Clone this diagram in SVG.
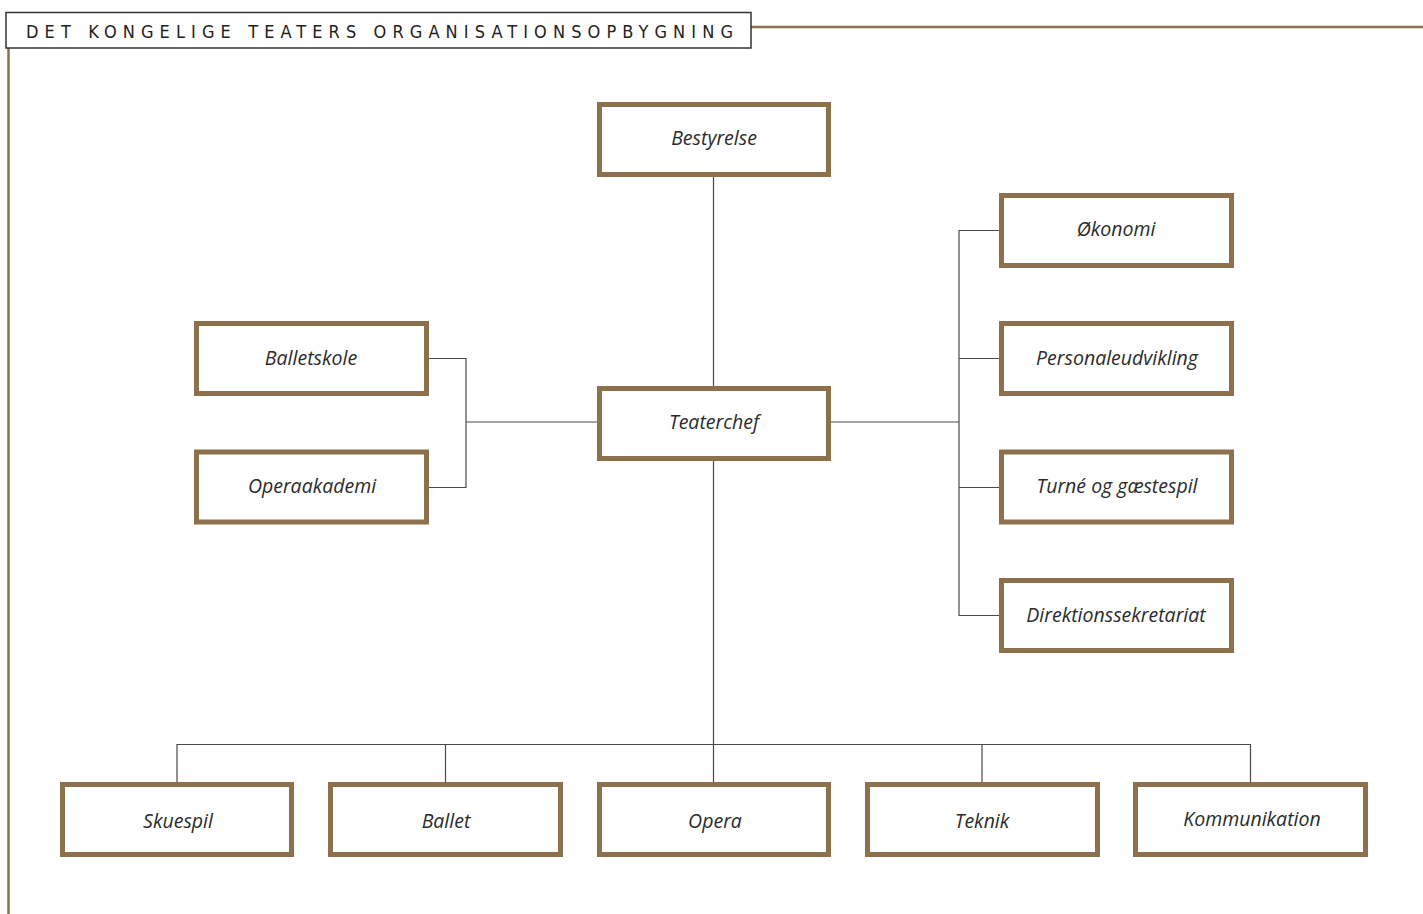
<svg xmlns="http://www.w3.org/2000/svg" width="1423" height="914" viewBox="0 0 1423 914">
<style>
.box{fill:#fff;stroke:#8c714c;stroke-width:5}
.lbl{font-family:"Open Sans","Liberation Sans",sans-serif;font-style:italic;font-size:19.5px;fill:#2b2b2b;text-anchor:middle;dominant-baseline:central}
.con{stroke:#4a4a4a;stroke-width:1.2;fill:none}
.frame{stroke:#8c714c;stroke-width:2.5;fill:none}
</style>
<rect width="1423" height="914" fill="#fff"/>
<g id="frame">
<line class="frame" x1="751" y1="27" x2="1423" y2="27"/>
<line class="frame" x1="8.5" y1="48" x2="8.5" y2="914"/>
<rect x="6" y="12.5" width="745" height="35.5" fill="#fff" stroke="#333" stroke-width="1.5"/>
<text x="26" y="37.5" font-family="'DejaVu Sans Condensed','Liberation Sans',sans-serif" font-stretch="condensed" font-size="18" fill="#222" textLength="707" lengthAdjust="spacing">DET KONGELIGE TEATERS ORGANISATIONSOPBYGNING</text>
</g>
<g id="connectors">
<path class="con" d="M713.5 177V386M713.5 460V782"/>
<path class="con" d="M466 422H597M428 358.5H466V487.5H428"/>
<path class="con" d="M830 422H959M999 230.5H959V615.5H999M959 358.5H999M959 487.5H999"/>
<path class="con" d="M177 782V744.5H1250.5V782M445.5 744.5V782M982 744.5V782"/>
</g>
<g id="bestyrelse"><rect class="box" x="599.5" y="104.5" width="229" height="70"/><text class="lbl" x="714" y="137">Bestyrelse</text></g>
<g id="teaterchef"><rect class="box" x="599.5" y="388.5" width="229" height="70"/><text class="lbl" x="714" y="421">Teaterchef</text></g>
<g id="okonomi"><rect class="box" x="1001.5" y="195.5" width="230" height="70"/><text class="lbl" x="1116" y="228">Økonomi</text></g>
<g id="personaleudvikling"><rect class="box" x="1001.5" y="323.5" width="230" height="70"/><text class="lbl" x="1117" y="357">Personaleudvikling</text></g>
<g id="turne"><rect class="box" x="1001.5" y="452" width="230" height="70"/><text class="lbl" x="1117" y="485">Turné og gæstespil</text></g>
<g id="direktionssekretariat"><rect class="box" x="1001.5" y="580.5" width="230" height="70"/><text class="lbl" x="1116" y="614">Direktionssekretariat</text></g>
<g id="balletskole"><rect class="box" x="196.5" y="323.5" width="230" height="70"/><text class="lbl" x="311" y="357">Balletskole</text></g>
<g id="operaakademi"><rect class="box" x="196.5" y="452" width="230" height="70"/><text class="lbl" x="312" y="485">Operaakademi</text></g>
<g id="skuespil"><rect class="box" x="62.5" y="784.5" width="229" height="70"/><text class="lbl" x="178" y="820">Skuespil</text></g>
<g id="ballet"><rect class="box" x="330.5" y="784.5" width="230" height="70"/><text class="lbl" x="446" y="820">Ballet</text></g>
<g id="opera"><rect class="box" x="599.5" y="784.5" width="229" height="70"/><text class="lbl" x="715" y="820">Opera</text></g>
<g id="teknik"><rect class="box" x="867.5" y="784.5" width="230" height="70"/><text class="lbl" x="982" y="820">Teknik</text></g>
<g id="kommunikation"><rect class="box" x="1135.5" y="784.5" width="230" height="70"/><text class="lbl" x="1252" y="818">Kommunikation</text></g>
</svg>
